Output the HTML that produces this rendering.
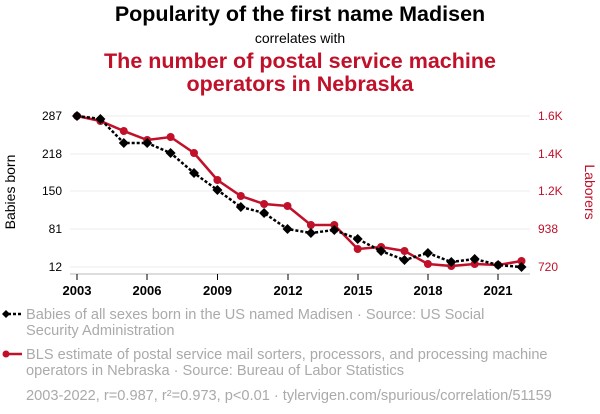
<!DOCTYPE html>
<html><head><meta charset="utf-8"><style>
body{margin:0;background:#fff;}
svg{display:block;font-family:"Liberation Sans",Arial,sans-serif;}
</style></head><body>
<svg width="600" height="414" viewBox="0 0 600 414">
<text x="300" y="21" text-anchor="middle" font-size="21.5" font-weight="bold" fill="#000">Popularity of the first name Madisen</text>
<text x="300" y="43" text-anchor="middle" font-size="14" fill="#000">correlates with</text>
<text x="300" y="68" text-anchor="middle" font-size="21.5" font-weight="bold" fill="#c0102a">The number of postal service machine</text>
<text x="300" y="91" text-anchor="middle" font-size="21.5" font-weight="bold" fill="#c0102a">operators in Nebraska</text>
<g stroke="#eee" stroke-width="1">
<line x1="70" x2="530" y1="116" y2="116"/><line x1="70" x2="530" y1="154" y2="154"/><line x1="70" x2="530" y1="191" y2="191"/><line x1="70" x2="530" y1="229" y2="229"/><line x1="70" x2="530" y1="267" y2="267"/>
</g>
<line x1="70" x2="530" y1="274" y2="274" stroke="#bbb"/>
<g stroke="#000" stroke-width="1">
<line x1="77" x2="77" y1="274" y2="280"/><line x1="147" x2="147" y1="274" y2="280"/><line x1="217.5" x2="217.5" y1="274" y2="280"/><line x1="288" x2="288" y1="274" y2="280"/><line x1="358" x2="358" y1="274" y2="280"/><line x1="428" x2="428" y1="274" y2="280"/><line x1="498" x2="498" y1="274" y2="280"/>
</g>
<g font-size="13" font-weight="bold" text-anchor="middle" fill="#000">
<text x="77" y="295">2003</text><text x="147" y="295">2006</text><text x="217.5" y="295">2009</text><text x="288" y="295">2012</text><text x="358" y="295">2015</text><text x="428" y="295">2018</text><text x="498" y="295">2021</text>
</g>
<g font-size="12" text-anchor="end" fill="#000">
<text x="62" y="120">287</text><text x="62" y="158">218</text><text x="62" y="195">150</text><text x="62" y="233">81</text><text x="62" y="271">12</text>
</g>
<g font-size="12" fill="#c0102a">
<text x="538" y="120">1.6K</text><text x="538" y="158">1.4K</text><text x="538" y="195">1.2K</text><text x="538" y="233">938</text><text x="538" y="271">720</text>
</g>
<text transform="translate(15,192) rotate(-90)" text-anchor="middle" font-size="14" fill="#000">Babies born</text>
<text transform="translate(585,192) rotate(90)" text-anchor="middle" font-size="14" fill="#c0102a">Laborers</text>
<polyline fill="none" stroke="#c0102a" stroke-width="2.5" points="77,116 100.4,121 123.8,131 147.2,140 170.6,137 194,153 217.4,180 240.8,196 264.1,204 287.5,206 310.9,225 334.3,225 357.7,249 381.1,247 404.5,251 427.9,264 451.3,266 474.7,264 498.1,265 521.5,261"/>
<g fill="#c0102a">
<circle cx="77" cy="116" r="4"/><circle cx="100.4" cy="121" r="4"/><circle cx="123.8" cy="131" r="4"/><circle cx="147.2" cy="140" r="4"/><circle cx="170.6" cy="137" r="4"/><circle cx="194" cy="153" r="4"/><circle cx="217.4" cy="180" r="4"/><circle cx="240.8" cy="196" r="4"/><circle cx="264.1" cy="204" r="4"/><circle cx="287.5" cy="206" r="4"/><circle cx="310.9" cy="225" r="4"/><circle cx="334.3" cy="225" r="4"/><circle cx="357.7" cy="249" r="4"/><circle cx="381.1" cy="247" r="4"/><circle cx="404.5" cy="251" r="4"/><circle cx="427.9" cy="264" r="4"/><circle cx="451.3" cy="266" r="4"/><circle cx="474.7" cy="264" r="4"/><circle cx="498.1" cy="265" r="4"/><circle cx="521.5" cy="261" r="4"/>
</g>
<polyline fill="none" stroke="#000" stroke-width="2.5" stroke-dasharray="3,2" points="77,116 100.4,119 123.8,143 147.2,143 170.6,153 194,173 217.4,190 240.8,207 264.1,213 287.5,229 310.9,233 334.3,230 357.7,239 381.1,251 404.5,260 427.9,253 451.3,262 474.7,259 498.1,265 521.5,267"/>
<g fill="#000">
<path d="M77,111l5,5l-5,5l-5,-5z"/><path d="M100.4,114l5,5l-5,5l-5,-5z"/><path d="M123.8,138l5,5l-5,5l-5,-5z"/><path d="M147.2,138l5,5l-5,5l-5,-5z"/><path d="M170.6,148l5,5l-5,5l-5,-5z"/><path d="M194,168l5,5l-5,5l-5,-5z"/><path d="M217.4,185l5,5l-5,5l-5,-5z"/><path d="M240.8,202l5,5l-5,5l-5,-5z"/><path d="M264.1,208l5,5l-5,5l-5,-5z"/><path d="M287.5,224l5,5l-5,5l-5,-5z"/><path d="M310.9,228l5,5l-5,5l-5,-5z"/><path d="M334.3,225l5,5l-5,5l-5,-5z"/><path d="M357.7,234l5,5l-5,5l-5,-5z"/><path d="M381.1,246l5,5l-5,5l-5,-5z"/><path d="M404.5,255l5,5l-5,5l-5,-5z"/><path d="M427.9,248l5,5l-5,5l-5,-5z"/><path d="M451.3,257l5,5l-5,5l-5,-5z"/><path d="M474.7,254l5,5l-5,5l-5,-5z"/><path d="M498.1,260l5,5l-5,5l-5,-5z"/><path d="M521.5,262l5,5l-5,5l-5,-5z"/>
</g>
<line x1="3" x2="22" y1="314" y2="314" stroke="#000" stroke-width="2.5" stroke-dasharray="3,2"/>
<path d="M6,310l4,4l-4,4l-4,-4z" fill="#000"/>
<g font-size="14.6" fill="#aaa">
<text x="26" y="319">Babies of all sexes born in the US named Madisen · Source: US Social</text>
<text x="26" y="335">Security Administration</text>
<text x="26" y="359">BLS estimate of postal service mail sorters, processors, and processing machine</text>
<text x="26" y="375">operators in Nebraska · Source: Bureau of Labor Statistics</text>
<text x="26" y="400">2003-2022, r=0.987, r²=0.973, p&lt;0.01 · tylervigen.com/spurious/correlation/51159</text>
</g>
<line x1="3" x2="22" y1="354" y2="354" stroke="#c0102a" stroke-width="2.5"/>
<circle cx="6" cy="354" r="3.5" fill="#c0102a"/>
</svg>
</body></html>
